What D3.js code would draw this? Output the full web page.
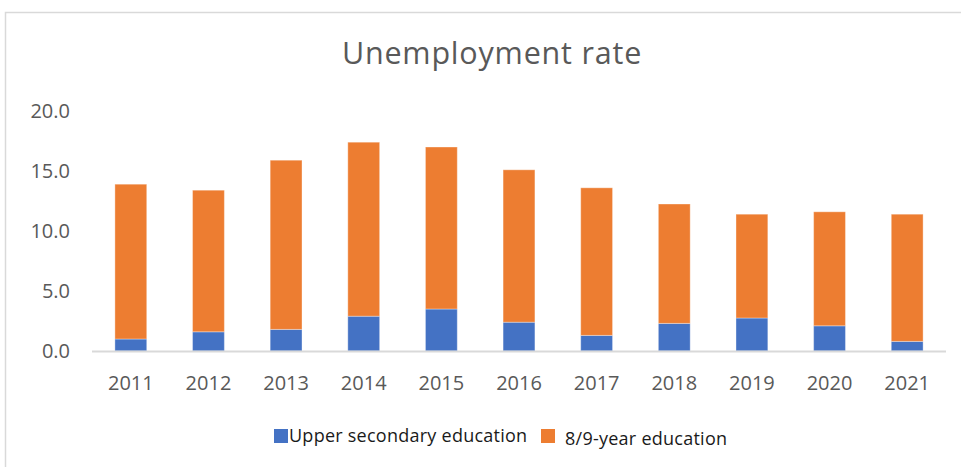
<!DOCTYPE html>
<html><head><meta charset="utf-8">
<script src="https://cdn.jsdelivr.net/npm/d3@7"></script>
<style>body{margin:0;background:#fff;} svg{display:block;}</style>
</head><body>
<svg id="chart" width="961" height="467"></svg>
<script>
const years = ["2011","2012","2013","2014","2015","2016","2017","2018","2019","2020","2021"];
const upperSecondary = [1.0, 1.6, 1.8, 2.9, 3.5, 2.4, 1.3, 2.3, 2.75, 2.1, 0.8];
const basicEducation = [12.9, 11.8, 14.1, 14.5, 13.5, 12.7, 12.3, 9.95, 8.65, 9.5, 10.6];
const seriesNames = ["Upper secondary education", "8/9-year education"];
const seriesColors = ["#4472C4", "#ED7D31"];
const yTicks = [0, 5, 10, 15, 20];

const svg = d3.select("#chart");
const font = "'Open Sans', sans-serif";

svg.append("rect").attr("x",5.5).attr("y",12.5).attr("width",1000).attr("height",500)
  .attr("fill","none").attr("stroke","#D9D9D9").attr("stroke-width",1.5);

svg.append("text").attr("x",492).attr("y",64).attr("text-anchor","middle")
  .attr("font-family",font).attr("font-size",30.5).attr("letter-spacing","0.8px").attr("fill","#595959")
  .text("Unemployment rate");

const x = d3.scaleBand().domain(years).range([92, 946]).paddingInner(0.59).paddingOuter(0.295);
const y = d3.scaleLinear().domain([0, 20]).range([351, 111]);

const data = years.map((yr,i)=>({year:yr, s0:upperSecondary[i], s1:basicEducation[i]}));
const stack = d3.stack().keys(["s0","s1"])(data);

svg.append("g").selectAll("g").data(stack).join("g")
  .attr("fill",(d,i)=>seriesColors[i])
  .selectAll("rect").data(d=>d).join("rect")
  .attr("x",d=>x(d.data.year)).attr("width",x.bandwidth())
  .attr("y",d=>y(d[1])).attr("height",d=>y(d[0])-y(d[1]))
  .attr("stroke","rgba(255,255,255,0.35)").attr("stroke-width",1);

// x axis line
svg.append("line").attr("x1",92).attr("x2",946).attr("y1",351.5).attr("y2",351.5)
  .attr("stroke","#D9D9D9").attr("stroke-width",2);

// y axis labels
const yAxis = d3.axisLeft(y).tickValues(yTicks).tickFormat(d3.format(".1f")).tickSize(0).tickPadding(0);
const gy = svg.append("g").attr("transform","translate(70,0)").call(yAxis);
gy.select(".domain").remove();
gy.selectAll("text").attr("font-family",font).attr("font-size",20).attr("fill","#595959");

// x axis labels
const xAxis = d3.axisBottom(x).tickSize(0).tickPadding(0);
const gx = svg.append("g").attr("transform","translate(0,376)").call(xAxis);
gx.select(".domain").remove();
gx.selectAll("text").attr("font-family",font).attr("font-size",20).attr("fill","#595959");

// legend
const legend = [{x:274, tx:289, ty:442}, {x:541, tx:565, ty:445}];
legend.forEach((l,i)=>{
  svg.append("rect").attr("x",l.x).attr("y",429).attr("width",14).attr("height",14).attr("fill",seriesColors[i]);
  svg.append("text").attr("x",l.tx).attr("y",l.ty).attr("font-family",font).attr("font-size",18)
    .attr("letter-spacing","0.25px").attr("fill","#1a1a1a").text(seriesNames[i]);
});
</script>
</body></html>
